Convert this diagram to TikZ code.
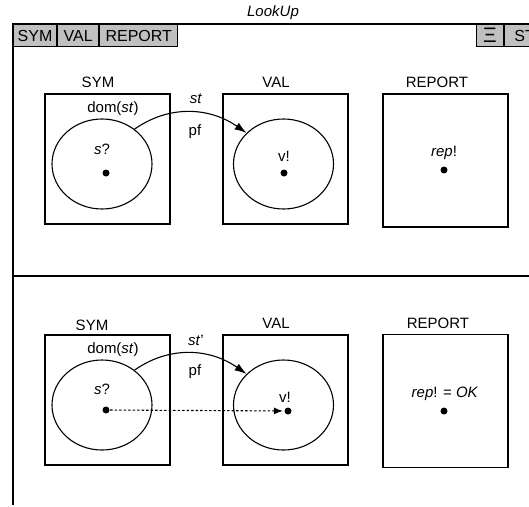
\documentclass[tikz,border=0pt]{standalone}
\usepackage{fontspec}
\setmainfont{Liberation Sans}
\usetikzlibrary{positioning,arrows.meta,shapes.geometric}
\definecolor{tabGray}{RGB}{192,192,192}
\begin{document}
\begin{tikzpicture}[
  x=1pt, y=-1pt,
  font=\fontsize{15}{18}\selectfont,
  line width=1.1pt,
  tab/.style={draw, fill=tabGray, minimum height=22pt, inner sep=0pt, anchor=north west,
    font=\fontsize{16}{18}\selectfont},
  setbox/.style={draw, minimum width=125pt, minimum height=130pt, inner sep=0pt},
  dombox/.style={draw, ellipse, minimum width=100pt, minimum height=90pt, inner sep=0pt},
  elem/.style={circle, fill=black, inner sep=0pt, minimum size=7pt},
  arr/.style={-{Latex[length=12pt, width=8pt]}},
  maplet/.style={dash pattern=on 2.5pt off 2pt, -{Latex[length=9pt, width=7pt]}, shorten >=1pt},
]
\useasboundingbox (0,0) rectangle (529,506);
% schema frame
\node[font=\itshape\fontsize{15}{18}\selectfont] (title) at (273,13) {LookUp};
\draw (13,505) -- (13,24) -- (529,24);
\draw (13,276) -- (529,276);
\node[tab, minimum width=43pt] (tsym) at (13,24) {SYM};
\node[tab, minimum width=41pt] (tval) at (tsym.north east) {VAL};
\node[tab, minimum width=78pt] (trep) at (tval.north east) {REPORT};
\node[tab, minimum width=27pt, font=\fontsize{21}{22}\selectfont] (txi) at (476,24) {Ξ};
\node[tab, minimum width=40pt] (tst) at (txi.north east) {ST};
% before
\node (symlbl1) at (98,82) {SYM};
\node (vallbl1) at (276,82) {VAL};
\node (replbl1) at (437,82) {REPORT};
\node[setbox] (sym1) at (107.5,159) {};
\node[setbox] (val1) at (285.5,159) {};
\node[setbox, minimum height=133pt] (rep1) at (445.5,160.5) {};
\node[dombox] (dom1) at (102,164) {};
\node[dombox] (ran1) at (283.5,164) {};
\node[elem] (s1) at (106,173) {};
\node[elem] (v1) at (284,173) {};
\node[elem] (r1) at (444,170) {};
\node (domtxt1) at (113,109) {dom(\textit{st})};
\node (stxt1) at (102,149) {\textit{s}?};
\node (vtxt1) at (284,156) {v!};
\node (reptxt1) at (444,153) {\textit{rep}!};
\node (sttxt1) at (196,99) {\textit{st}};
\node (pftxt1) at (195,132) {pf};
\draw[arr] (dom1.47) to[out=35, in=145] (ran1.140);
% after
\node (symlbl2) at (92,325) {SYM};
\node (vallbl2) at (276,323) {VAL};
\node (replbl2) at (438,323) {REPORT};
\node[setbox] (sym2) at (107.5,400) {};
\node[setbox] (val2) at (285.5,400) {};
\node[setbox, minimum height=133pt] (rep2) at (445.5,401) {};
\node[dombox] (dom2) at (102,405) {};
\node[dombox] (ran2) at (283.5,405) {};
\node[elem] (s2) at (106,410) {};
\node[elem] (v2) at (288,411) {};
\node[elem] (r2) at (444,411) {};
\node (domtxt2) at (113,350) {dom(\textit{st})};
\node (stxt2) at (102,389) {\textit{s}?};
\node (vtxt2) at (285,397) {v!};
\node (reptxt2) at (445,394) {\textit{rep}! = \textit{OK}};
\node (sttxt2) at (196,340) {\textit{st}'};
\node (pftxt2) at (195,372) {pf};
\draw[arr] (dom2.47) to[out=35, in=145] (ran2.140);
\draw[maplet] (s2) -- (v2);
\end{tikzpicture}
\end{document}
